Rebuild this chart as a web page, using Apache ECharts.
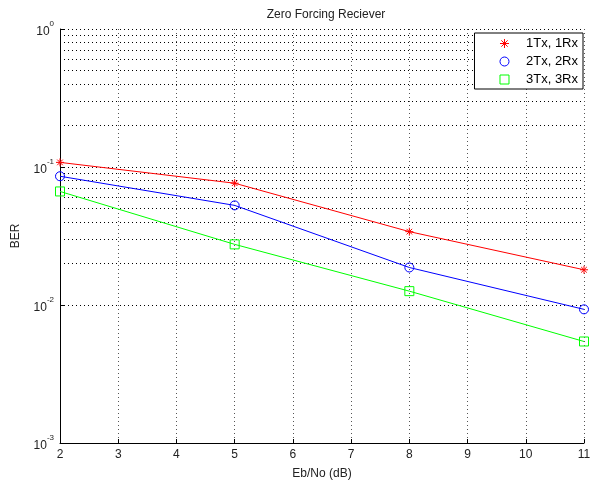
<!DOCTYPE html>
<html><head><meta charset="utf-8">
<script src="https://cdn.jsdelivr.net/npm/echarts@6/dist/echarts.min.js"></script>
<style>html,body{margin:0;padding:0;background:#fff}#c{width:596px;height:485px}</style>
</head><body><div id="c"></div>
<script>
var snr = [2, 5, 8, 11];
var ber1x1 = [0.108, 0.0763, 0.034, 0.018];
var ber2x2 = [0.0857, 0.0527, 0.0187, 0.0093];
var ber3x3 = [0.0665, 0.0275, 0.0126, 0.00544];
var seriesNames = ['1Tx, 1Rx', '2Tx, 2Rx', '3Tx, 3Rx'];
var xTicks = [2, 3, 4, 5, 6, 7, 8, 9, 10, 11];
var minorGrid = [];
[0.001, 0.01, 0.1].forEach(function (d) { for (var k = 2; k <= 9; k++) minorGrid.push(+(d * k).toPrecision(3)); });

var dot = { color: '#000', width: 1, type: [1, 3] };
var starPath = 'path://M0,-10 L0,10 M-10,0 L10,0 M-7,-7 L7,7 M-7,7 L7,-7';
var colors = ['#ff0000', '#0000ff', '#00ff00'];
var symbols = [starPath, 'circle', 'rect'];
var sizes = [8, 9, 9];
var font = 'Liberation Sans, Arial';

function mk(i, data) {
  var filled = i === 0;
  return {
    name: seriesNames[i], type: 'line',
    data: snr.map(function (x, k) { return [x, data[k]]; }),
    symbol: symbols[i], symbolSize: sizes[i], showSymbol: true,
    lineStyle: { color: colors[i], width: 1 },
    itemStyle: { color: filled ? colors[i] : 'rgba(0,0,0,0)', borderColor: colors[i], borderWidth: 1 },
    emphasis: { disabled: true }, animation: false, z: 5
  };
}
var s1 = mk(0, ber1x1);
var s2 = mk(1, ber2x2);
var s3 = mk(2, ber3x3);
s1.markLine = {
  silent: true, symbol: 'none', animation: false,
  label: { show: false },
  lineStyle: dot,
  data: minorGrid.map(function (v) { return { yAxis: v }; }),
  z: 1
};

var chart = echarts.init(document.getElementById('c'), null, { renderer: 'canvas' });
chart.setOption({
  backgroundColor: '#fff',
  animation: false,
  title: {
    text: 'Zero Forcing Reciever', left: 321, top: 4, textAlign: 'center',
    textStyle: { fontFamily: font, fontSize: 12, fontWeight: 'normal', color: '#222' }
  },
  legend: {
    right: 13, top: 33, orient: 'vertical',
    backgroundColor: '#fff', borderColor: '#000', borderWidth: 1,
    padding: [4, 5, 3, 25], itemGap: 5, itemWidth: 9, itemHeight: 9,
    textStyle: { fontFamily: font, fontSize: 13, color: '#000', padding: [0, 0, 0, 12] },
    data: seriesNames.map(function (n, i) {
      return {
        name: n, icon: symbols[i],
        itemStyle: { color: i === 0 ? colors[i] : 'rgba(0,0,0,0)', borderColor: colors[i], borderWidth: 1 }
      };
    })
  },
  grid: { left: 60, right: 12, top: 29, bottom: 39 },
  xAxis: {
    type: 'value', min: 2, max: 11, interval: 1,
    name: 'Eb/No (dB)', nameLocation: 'middle', nameGap: 25,
    nameTextStyle: { fontFamily: font, fontSize: 12, color: '#222' },
    axisLine: { lineStyle: { color: '#000', width: 1 } },
    axisTick: { inside: true, length: 4, lineStyle: { color: '#000' } },
    axisLabel: { fontFamily: font, fontSize: 12, color: '#222', margin: 6 },
    splitLine: { show: true, lineStyle: { color: '#555', width: 1, type: [1, 3] } }
  },
  yAxis: {
    type: 'log', logBase: 10, min: 0.001, max: 1,
    name: 'BER', nameLocation: 'middle', nameGap: 38, nameRotate: 90,
    nameTextStyle: { fontFamily: font, fontSize: 12, color: '#222' },
    axisLine: { show: true, lineStyle: { color: '#000', width: 1 } },
    axisTick: { show: true, inside: true, length: 4, lineStyle: { color: '#000' } },
    axisLabel: {
      margin: 6, color: '#222',
      formatter: function (v) { return '{b|10}{s|' + Math.round(Math.log10(v)) + '}'; },
      rich: {
        b: { fontFamily: font, fontSize: 12, color: '#222', verticalAlign: 'bottom', padding: [6, 0, 0, 0] },
        s: { fontFamily: font, fontSize: 8, color: '#222', verticalAlign: 'top', padding: [0, 0, 6, 0] }
      }
    },
    splitLine: { show: true, lineStyle: dot }
  },
  series: [s1, s2, s3]
});
</script>
</body></html>
